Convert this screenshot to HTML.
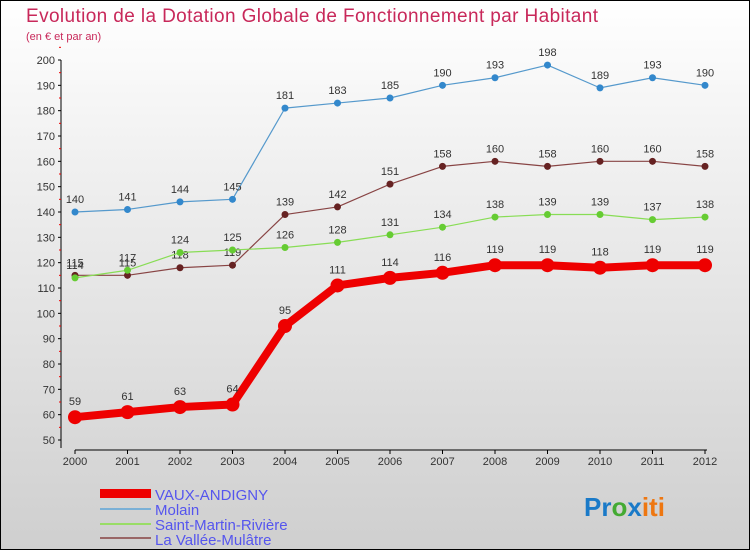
<!DOCTYPE html>
<html><head><meta charset="utf-8"><style>
body{margin:0}
#c{position:relative;width:750px;height:550px;box-sizing:border-box;border:1px solid #000;background:linear-gradient(#fff 0%,#f0f0f0 30%,#cfcfcf 100%);font-family:"Liberation Sans",sans-serif;overflow:hidden}
</style></head><body>
<div id="c">
<svg width="750" height="550" style="position:absolute;left:-1px;top:-1px" id="svg">
<text x="26" y="22" font-size="19" fill="#c8285a" textLength="572">Evolution de la Dotation Globale de Fonctionnement par Habitant</text>
<text x="26" y="40" font-size="11" fill="#c8285a">(en € et par an)</text>
<g id="axes"></g><g id="series"></g>
<g>
<rect x="100" y="489" width="51" height="9" fill="#e00"/>
<text x="155" y="500" font-size="15" fill="#5555ee">VAUX-ANDIGNY</text>
<rect x="100" y="508" width="51" height="2" fill="#7ab0d6"/>
<text x="155" y="515" font-size="15" fill="#5555ee">Molain</text>
<rect x="100" y="523" width="51" height="2" fill="#99dd66"/>
<text x="155" y="530" font-size="15" fill="#5555ee">Saint-Martin-Rivière</text>
<rect x="100" y="537" width="51" height="2" fill="#996666"/>
<text x="155" y="545" font-size="15" fill="#5555ee">La Vallée-Mulâtre</text>
</g>
<text x="584" y="516" font-size="26" font-weight="bold"><tspan fill="#1a7ac8">Pr</tspan><tspan fill="#44aa33">o</tspan><tspan fill="#1a7ac8">x</tspan><tspan fill="#ee7711">iti</tspan></text>
</svg>
</div>
<script>
const years=[2000,2001,2002,2003,2004,2005,2006,2007,2008,2009,2010,2011,2012];
const yTicks=[50,60,70,80,90,100,110,120,130,140,150,160,170,180,190,200];
const vaux=[59,61,63,64,95,111,114,116,119,119,118,119,119];
const molain=[140,141,144,145,181,183,185,190,193,198,189,193,190];
const saintMartin=[114,117,124,125,126,128,131,134,138,139,139,137,138];
const laVallee=[115,115,118,119,139,142,151,158,160,158,160,160,158];
const NS="http://www.w3.org/2000/svg";
const X=i=>75+i*(630/(years.length-1));
const Y=v=>440-(v-50)*(380/150);
function mk(t,a,p){const e=document.createElementNS(NS,t);for(const k in a)e.setAttribute(k,a[k]);p.appendChild(e);return e;}
const ax=document.getElementById('axes');
let yl=mk('line',{x1:61,y1:Y(200),x2:61,y2:448,stroke:'#000'},ax);


let xl=mk('line',{x1:75,y1:450,x2:707,y2:450,stroke:'#000'},ax);


yTicks.forEach(v=>{
 mk('line',{x1:58,y1:Y(v),x2:61,y2:Y(v),stroke:'#000'},ax);
 mk('line',{x1:59,y1:Y(v+5),x2:61,y2:Y(v+5),stroke:'#e00'},ax);
 const t=mk('text',{x:55,y:Y(v)+4,'font-size':11,'text-anchor':'end',fill:'#333'},ax);
 
 
 t.textContent=v;
});
years.forEach((yr,i)=>{
 mk('line',{x1:X(i),y1:450,x2:X(i),y2:454,stroke:'#000'},ax);
 const t=mk('text',{x:X(i),y:465,'font-size':11,'text-anchor':'middle',fill:'#333'},ax);
 
 
 t.textContent=yr;
});
const sg=document.getElementById('series');
function series(name,data,color,w,r,dot){
 const g=mk('g',{},sg);
 
 
 mk('polyline',{points:data.map((v,i)=>X(i)+','+Y(v)).join(' '),fill:'none',stroke:color,'stroke-width':w,'stroke-linejoin':'round'},g);
 data.forEach((v,i)=>{
  const c=mk('circle',{cx:X(i),cy:Y(v),r:r,fill:dot},g);
  
  
  const t=mk('text',{x:X(i),y:Y(v)-(w>3?12:9),'font-size':11,'text-anchor':'middle',fill:'#333'},g);
  
  
  t.textContent=v;
 });
}
series('la-vallee-series',laVallee,'#884444',1.2,3.5,'#662222');
series('saint-martin-series',saintMartin,'#88dd55',1.2,3.5,'#66cc33');
series('molain-series',molain,'#5599cc',1.2,3.5,'#3388cc');
series('vaux-series',vaux,'#ee0000',8,7,'#ee0000');
</script>
</body></html>
